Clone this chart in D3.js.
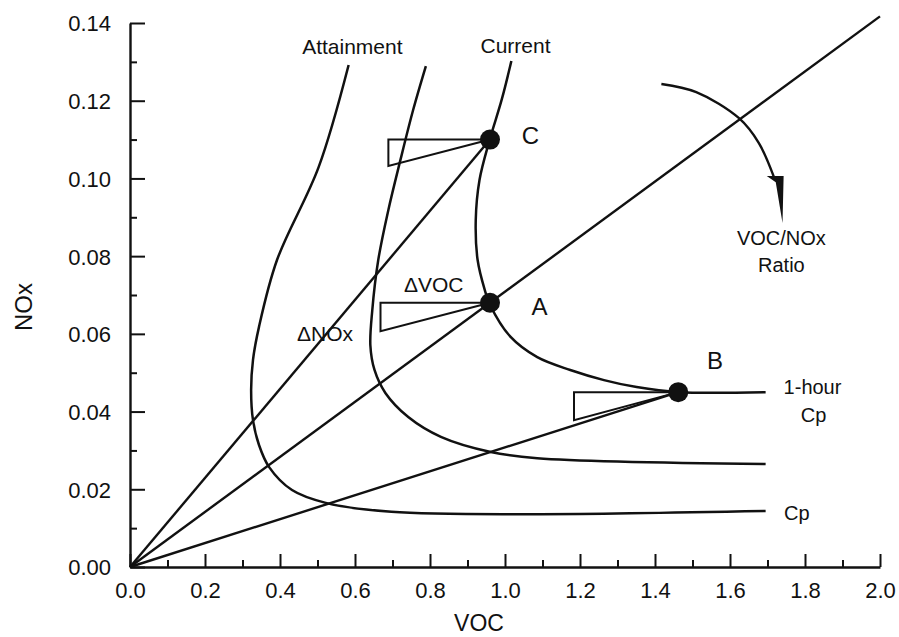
<!DOCTYPE html>
<meta charset="utf-8">
<title>VOC / NOx isopleths</title>
<script src="https://d3js.org/d3.v7.min.js"></script>
<style>
  body { margin: 0; background: #fff; }
  text { font-family: "Liberation Sans", Arial, Helvetica, sans-serif; fill: #111; }
</style>
<body>
<div id="chart"></div>
<script>

// ---- data ----
var vocTicks = [0.0, 0.2, 0.4, 0.6, 0.8, 1.0, 1.2, 1.4, 1.6, 1.8, 2.0];
var noxTicks = [0.00, 0.02, 0.04, 0.06, 0.08, 0.10, 0.12, 0.14];

// isopleth curves as [VOC, NOx]
var attainmentCurve = [
  [0.583, 0.1292], [0.503, 0.1029], [0.392, 0.0790], [0.344, 0.0618],
  [0.328, 0.0533], [0.323, 0.0455], [0.328, 0.0378], [0.344, 0.0314],
  [0.371, 0.0257], [0.432, 0.0198], [0.522, 0.0165], [0.697, 0.0142],
  [1.086, 0.0136], [1.695, 0.0144]
];
var middleCurve = [
  [0.789, 0.1289], [0.755, 0.1176], [0.721, 0.1047], [0.689, 0.0919],
  [0.662, 0.0790], [0.646, 0.0660], [0.641, 0.0570], [0.652, 0.0507],
  [0.681, 0.0448], [0.742, 0.0386], [0.829, 0.0335], [0.962, 0.0296],
  [1.086, 0.0280], [1.695, 0.0265]
];
var currentCurve = [
  [1.017, 0.1302], [0.991, 0.1202], [0.959, 0.1099], [0.932, 0.0996],
  [0.922, 0.0893], [0.927, 0.0790], [0.946, 0.0713], [0.959, 0.0677],
  [1.015, 0.0592], [1.086, 0.0540], [1.174, 0.0507], [1.264, 0.0481],
  [1.351, 0.0463], [1.462, 0.0450], [1.695, 0.0450]
];

// marked points and the rays from the origin
var pointNames = ["C", "A", "B"];
var pointVOC = [0.96, 0.96, 1.462];
var pointNOx = [0.11, 0.068, 0.045];
var rayEndVOC = [0.96, 2.0, 1.462];
var rayEndNOx = [0.11, 0.1417, 0.045];

// slope triangles (left edge VOC, lower corner NOx)
var triLeftVOC = [0.689, 0.668, 1.184];
var triLowNOx = [0.1032, 0.0607, 0.0378];

// ratio arrow
var arrowArc = [[1.417, 0.1243], [1.510, 0.1222], [1.624, 0.1155], [1.677, 0.1091], [1.717, 0.1004]];
var arrowHead = [[1.698, 0.1006], [1.743, 0.1006], [1.740, 0.0885], [1.722, 0.0990]];

// ---- layout ----
var W = 899, H = 637;
var svg = d3.select("#chart").append("svg")
  .attr("width", W)
  .attr("height", H);

var x = d3.scaleLinear().domain([0, 2]).range([130, 880]);
var y = d3.scaleLinear().domain([0, 0.14]).range([567, 23]);

// minor ticks first, then major
svg.append("g")
  .attr("transform", "translate(" + x(0) + ",0)")
  .call(d3.axisLeft(y).tickValues(d3.range(1, 14, 2).map(function(d) { return d / 100; }))
    .tickSize(-7).tickSizeOuter(0).tickFormat(""))
  .call(function(g) { g.select(".domain").remove(); });
svg.append("g")
  .attr("transform", "translate(0," + y(0) + ")")
  .call(d3.axisBottom(x).tickValues(d3.range(1, 20, 2).map(function(d) { return d / 10; }))
    .tickSize(-7).tickSizeOuter(0).tickFormat(""))
  .call(function(g) { g.select(".domain").remove(); });

var yAxis = svg.append("g")
  .attr("transform", "translate(" + x(0) + ",0)")
  .call(d3.axisLeft(y).tickValues(noxTicks).tickSize(-15).tickSizeOuter(0)
    .tickPadding(19).tickFormat(d3.format(".2f")));
var xAxis = svg.append("g")
  .attr("transform", "translate(0," + y(0) + ")")
  .call(d3.axisBottom(x).tickValues(vocTicks).tickSize(-13).tickSizeOuter(0)
    .tickPadding(15).tickFormat(d3.format(".1f")));

svg.selectAll(".tick line").attr("stroke", "#111").attr("stroke-width", 2);
svg.selectAll(".domain").attr("stroke", "#111").attr("stroke-width", 2.4);
svg.selectAll(".tick text").attr("font-size", 22).style("font-family", "'Liberation Sans', Arial, sans-serif").attr("fill", "#111");
yAxis.selectAll(".tick text").attr("dy", "0.36em");

// axis titles
svg.append("text")
  .attr("transform", "translate(" + 24 + "," + ((y(0) + y(0.14)) / 2 + 12) + ") rotate(-90)")
  .attr("text-anchor", "middle")
  .attr("dy", "0.35em")
  .attr("font-size", 24)
  .text("NOx");
svg.append("text")
  .attr("x", (x(0) + x(2)) / 2 - 26)
  .attr("y", 631)
  .attr("text-anchor", "middle")
  .attr("font-size", 23)
  .text("VOC");

// isopleths
var line = d3.line()
  .x(function(d) { return x(d[0]); })
  .y(function(d) { return y(d[1]); })
  .curve(d3.curveCatmullRom.alpha(0.5));

[attainmentCurve, middleCurve, currentCurve].forEach(function(c) {
  svg.append("path")
    .attr("d", line(c))
    .attr("fill", "none")
    .attr("stroke", "#111")
    .attr("stroke-width", 2.5);
});

// rays from the origin
rayEndVOC.forEach(function(v, i) {
  svg.append("line")
    .attr("x1", x(0)).attr("y1", y(0))
    .attr("x2", x(v)).attr("y2", y(rayEndNOx[i]))
    .attr("stroke", "#111")
    .attr("stroke-width", 2.4);
});

// slope triangles
pointVOC.forEach(function(v, i) {
  var pts = [[v, pointNOx[i]], [triLeftVOC[i], pointNOx[i]], [triLeftVOC[i], triLowNOx[i]]];
  svg.append("polygon")
    .attr("points", pts.map(function(p) { return x(p[0]) + "," + y(p[1]); }).join(" "))
    .attr("fill", "none")
    .attr("stroke", "#111")
    .attr("stroke-width", 2)
    .attr("stroke-linejoin", "miter");
});

// points
svg.selectAll(".pt")
  .data(pointVOC)
  .enter()
  .append("circle")
    .attr("class", "pt")
    .attr("cx", function(d) { return x(d); })
    .attr("cy", function(d, i) { return y(pointNOx[i]); })
    .attr("r", 10)
    .attr("fill", "#111");

// ratio arrow
svg.append("path")
  .attr("d", d3.line().x(function(d) { return x(d[0]); }).y(function(d) { return y(d[1]); })
    .curve(d3.curveCatmullRom)(arrowArc))
  .attr("fill", "none")
  .attr("stroke", "#111")
  .attr("stroke-width", 2.4);
svg.append("polygon")
  .attr("points", arrowHead.map(function(p) { return x(p[0]) + "," + y(p[1]); }).join(" "))
  .attr("fill", "#111");

// annotations
var labels = [
  { t: "Attainment", v: 0.593, n: 0.1340, s: 21 },
  { t: "Current", v: 1.028, n: 0.1343, s: 21 },
  { t: "C", v: 1.068, n: 0.1110, s: 24 },
  { t: "A", v: 1.092, n: 0.0672, s: 24 },
  { t: "B", v: 1.560, n: 0.0533, s: 24 },
  { t: "\u0394VOC", v: 0.810, n: 0.0726, s: 21 },
  { t: "\u0394NOx", v: 0.520, n: 0.0602, s: 21 },
  { t: "1-hour", v: 1.820, n: 0.0463, s: 20 },
  { t: "Cp", v: 1.823, n: 0.0391, s: 20 },
  { t: "Cp", v: 1.778, n: 0.0139, s: 20 },
  { t: "VOC/NOx", v: 1.737, n: 0.0847, s: 20 },
  { t: "Ratio", v: 1.737, n: 0.0777, s: 20 }
];
svg.selectAll(".lbl")
  .data(labels)
  .enter()
  .append("text")
    .attr("class", "lbl")
    .attr("x", function(d) { return x(d.v); })
    .attr("y", function(d) { return y(d.n); })
    .attr("dy", "0.36em")
    .attr("text-anchor", "middle")
    .attr("font-size", function(d) { return d.s; })
    .text(function(d) { return d.t; });

</script>
</body>
